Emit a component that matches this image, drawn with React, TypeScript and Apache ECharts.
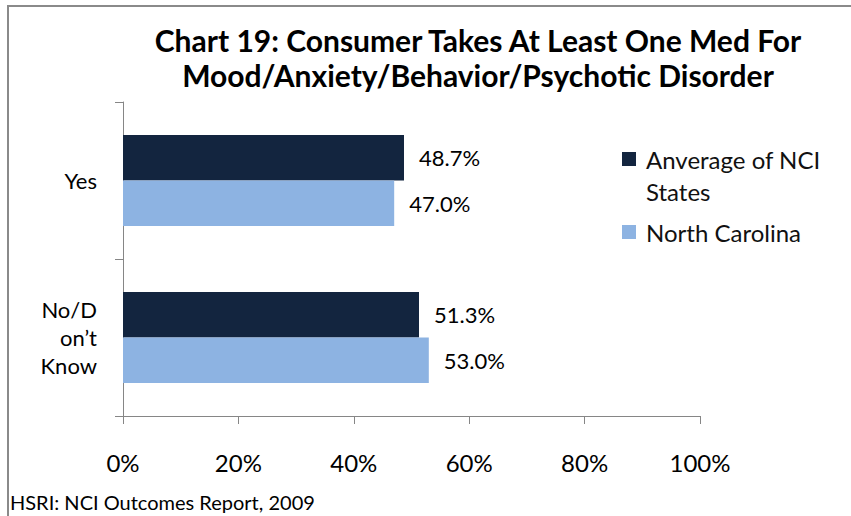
import React, { useEffect, useRef } from "react";
import * as echarts from "echarts";

const categories = ["Yes", "No/Don’t Know"];
const categoryLabels: Record<string, string> = {
  "Yes": "Yes",
  "No/Don’t Know": "No/D\non’t\nKnow",
};
const seriesNames = ["Anverage of NCI States", "North Carolina"];
const ncIAverage = [48.7, 51.3];
const northCarolina = [47.0, 53.0];
const xTicks = [0, 20, 40, 60, 80, 100];
const titleText = "Chart 19: Consumer Takes At Least One Med For\nMood/Anxiety/Behavior/Psychotic Disorder";
const footerText = "HSRI: NCI Outcomes Report, 2009";

const FONT = "Lato, 'Open Sans', sans-serif";

export default function App() {
  const ref = useRef<HTMLDivElement>(null);
  useEffect(() => {
    if (!ref.current) return;
    const chart = echarts.init(ref.current, undefined, { renderer: "svg" });
    const labelCommon = {
      show: true,
      position: "right" as const,
      distance: 15,
      fontSize: 22,
      fontFamily: FONT,
      color: "#000",
      formatter: (p: any) => `${Number(p.value).toFixed(1)}%`,
    };
    chart.setOption({
      animation: false,
      backgroundColor: "#fff",
      textStyle: { fontFamily: FONT },
      title: [
        {
          text: titleText,
          left: 478,
          top: 22,
          textAlign: "center",
          textStyle: {
            fontFamily: FONT,
            fontWeight: "bold",
            fontSize: 30,
            lineHeight: 35,
            color: "#000",
          },
          padding: 0,
        },
        {
          text: footerText,
          left: 10,
          top: 492,
          padding: 0,
          textStyle: {
            fontFamily: FONT,
            fontWeight: "normal",
            fontSize: 20,
            color: "#000",
          },
        },
      ],
      legend: {
        orient: "vertical",
        left: 622,
        top: 111,
        padding: 0,
        itemGap: 9,
        itemWidth: 14,
        itemHeight: 14,
        icon: "rect",
        data: seriesNames,
        formatter: (name: string) =>
          name === seriesNames[0] ? "\nAnverage of NCI\nStates" : name,
        textStyle: {
          fontFamily: FONT,
          fontSize: 24,
          lineHeight: 32,
          color: "#111",
          padding: [0, 0, 0, 5],
        },
      },
      graphic: [
        {
          type: "line",
          shape: { x1: 8, y1: 5, x2: 8, y2: 516 },
          style: { stroke: "#8a8a8a", lineWidth: 2 },
          silent: true,
        },
        {
          type: "line",
          shape: { x1: 7, y1: 6, x2: 851, y2: 6 },
          style: { stroke: "#8a8a8a", lineWidth: 2 },
          silent: true,
        },
      ],
      grid: { left: 123, right: 151, top: 102, bottom: 100 },
      xAxis: {
        type: "value",
        min: xTicks[0],
        max: xTicks[xTicks.length - 1],
        interval: xTicks[1] - xTicks[0],
        axisLine: { show: true, lineStyle: { color: "#868686", width: 1 } },
        axisTick: { show: true, length: 8, lineStyle: { color: "#868686" } },
        splitLine: { show: false },
        axisLabel: {
          margin: 34,
          fontSize: 24,
          fontFamily: FONT,
          color: "#000",
          formatter: (v: number) => `${v}%`,
        },
      },
      yAxis: {
        type: "category",
        data: categories,
        inverse: true,
        axisLine: { show: true, lineStyle: { color: "#868686", width: 1 } },
        axisTick: { show: true, length: 8, lineStyle: { color: "#868686" } },
        axisLabel: {
          margin: 26,
          fontSize: 22,
          lineHeight: 28,
          fontFamily: FONT,
          color: "#000",
          align: "right",
          formatter: (v: string) => categoryLabels[v] ?? v,
        },
      },
      series: [
        {
          name: seriesNames[0],
          type: "bar",
          data: ncIAverage,
          barGap: "0%",
          barCategoryGap: "42%",
          itemStyle: { color: "#13253F" },
          label: labelCommon,
        },
        {
          name: seriesNames[1],
          type: "bar",
          data: northCarolina,
          barGap: "0%",
          barCategoryGap: "42%",
          itemStyle: { color: "#8DB3E2" },
          label: labelCommon,
        },
      ],
    });
    return () => chart.dispose();
  }, []);
  return (
    <div
      ref={ref}
      style={{ position: "absolute", left: 0, top: 0, width: 851, height: 516 }}
    />
  );
}
